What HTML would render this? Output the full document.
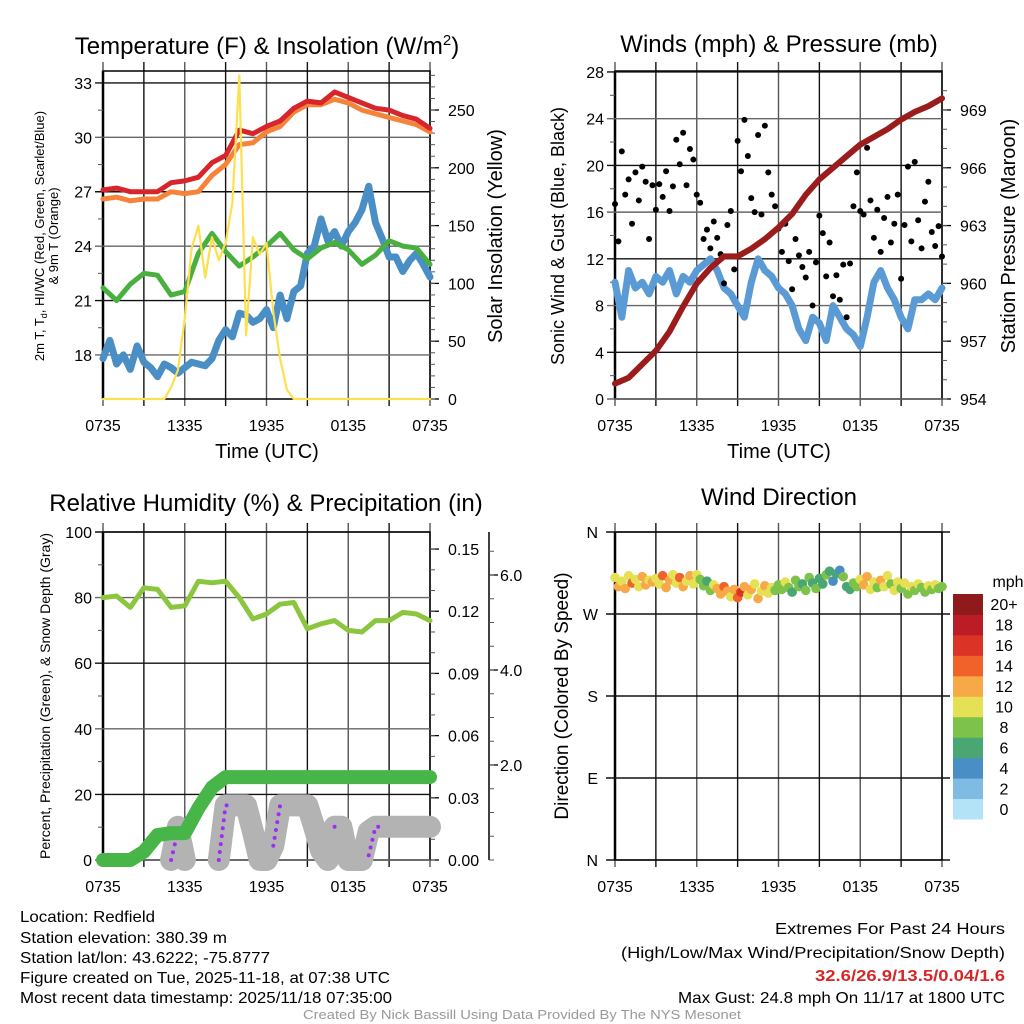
<!DOCTYPE html>
<html><head><meta charset="utf-8">
<style>
html,body{margin:0;padding:0;background:#fff;}
svg{display:block;font-family:"Liberation Sans",sans-serif;}
.tk{font-size:16px;fill:#000;}
</style></head>
<body>
<svg id="fig" width="1024" height="1024" viewBox="0 0 1024 1024" xmlns="http://www.w3.org/2000/svg">
<rect x="0" y="0" width="1024" height="1024" fill="#fff"/>
<text x="267" y="54" font-size="24" text-anchor="middle">Temperature (F) &amp; Insolation (W/m<tspan font-size="15" dy="-9">2</tspan><tspan dy="9">)</tspan></text>
<text x="779" y="52" font-size="24" text-anchor="middle">Winds (mph) &amp; Pressure (mb)</text>
<text x="266" y="511" font-size="24" text-anchor="middle">Relative Humidity (%) &amp; Precipitation (in)</text>
<text x="779" y="505" font-size="24" text-anchor="middle">Wind Direction</text>

<text x="267" y="458" font-size="20" text-anchor="middle">Time (UTC)</text>
<text x="779" y="458" font-size="20" text-anchor="middle">Time (UTC)</text>

<text transform="translate(44,236) rotate(-90)" font-size="13" text-anchor="middle">2m T, T<tspan font-size="9" dy="3">d</tspan><tspan dy="-3">, HI/WC (Red, Green, Scarlet/Blue)</tspan></text>
<text transform="translate(58,236) rotate(-90)" font-size="13" text-anchor="middle">&amp; 9m T (Orange)</text>
<text transform="translate(502,236) rotate(-90)" font-size="20" text-anchor="middle">Solar Insolation (Yellow)</text>
<text transform="translate(564,236) rotate(-90)" font-size="18" text-anchor="middle">Sonic Wind &amp; Gust (Blue, Black)</text>
<text transform="translate(1015,236) rotate(-90)" font-size="20" text-anchor="middle">Station Pressure (Maroon)</text>
<text transform="translate(50,696) rotate(-90)" font-size="14" text-anchor="middle">Percent, Precipitation (Green), &amp; Snow Depth (Gray)</text>
<text transform="translate(568,696) rotate(-90)" font-size="19" text-anchor="middle">Direction (Colored By Speed)</text>

<g id="layer"></g>

<g font-family="Liberation Sans Narrow, Liberation Sans, sans-serif" font-size="16">
<text x="20" y="922" textLength="135" lengthAdjust="spacingAndGlyphs">Location: Redfield</text>
<text x="20" y="943" textLength="207" lengthAdjust="spacingAndGlyphs">Station elevation: 380.39 m</text>
<text x="20" y="963" textLength="250" lengthAdjust="spacingAndGlyphs">Station lat/lon: 43.6222; -75.8777</text>
<text x="20" y="983" textLength="370" lengthAdjust="spacingAndGlyphs">Figure created on Tue, 2025-11-18, at 07:38 UTC</text>
<text x="20" y="1003" textLength="372" lengthAdjust="spacingAndGlyphs">Most recent data timestamp: 2025/11/18 07:35:00</text>
</g>
<g font-family="Liberation Sans Narrow, Liberation Sans, sans-serif" font-size="16" text-anchor="end">
<text x="1005" y="934" textLength="230" lengthAdjust="spacingAndGlyphs">Extremes For Past 24 Hours</text>
<text x="1005" y="958" textLength="384" lengthAdjust="spacingAndGlyphs">(High/Low/Max Wind/Precipitation/Snow Depth)</text>
<text x="1005" y="981" fill="#d62728" font-weight="bold" textLength="190" lengthAdjust="spacingAndGlyphs">32.6/26.9/13.5/0.04/1.6</text>
<text x="1005" y="1003" textLength="327" lengthAdjust="spacingAndGlyphs">Max Gust: 24.8 mph On 11/17 at 1800 UTC</text>
</g>
<text x="522" y="1019" font-family="Liberation Sans Narrow, Liberation Sans, sans-serif" font-size="13" fill="#999" text-anchor="middle" textLength="438" lengthAdjust="spacingAndGlyphs">Created By Nick Bassill Using Data Provided By The NYS Mesonet</text>
</svg>
<script>
// ---- data (hourly = 25 pts, half-hourly = 49 pts, 15-min = 97 pts, 0735 -> 0735) ----
const timeLabels = ["0735","1335","1935","0135","0735"];
const tempRed = [27.1,27.2,27.0,27.0,27.0,27.5,27.6,27.8,28.6,29.0,30.4,30.2,30.6,30.9,31.6,32.0,31.9,32.5,32.2,31.9,31.6,31.5,31.2,31.0,30.5];
const temp9m = [26.6,26.7,26.5,26.6,26.6,27.0,26.9,27.0,27.9,28.5,29.6,29.7,30.3,30.6,31.4,31.8,31.8,32.1,31.9,31.5,31.3,31.1,30.9,30.7,30.3];
const dewpoint = [21.7,21.0,21.9,22.5,22.4,21.3,21.5,23.6,24.7,23.7,22.9,23.4,24.0,24.7,23.8,23.3,23.9,24.2,23.8,23.0,23.5,24.3,24.0,23.9,23.0];
const windChill = [17.8,18.8,17.5,18.0,17.2,18.5,17.6,17.3,16.8,17.5,17.3,17.0,17.3,17.6,17.5,17.4,17.8,18.8,19.4,19.0,20.3,20.2,19.8,20.0,20.5,19.5,21.3,20.0,21.5,21.8,23.6,24.0,25.5,24.3,24.8,24.0,24.8,25.3,26.0,27.3,25.3,24.4,23.4,23.4,22.6,23.2,23.6,23.0,22.3];
const insolation = [0,0,0,0,0,0,0,0,0,0,10,25,70,130,150,105,140,120,135,170,280,55,140,125,135,75,35,8,0,0,0,0,0,0,0,0,0,0,0,0,0,0,0,0,0,0,0,0,0];
const tempTicks = [18,21,24,27,30,33];
const solarTicks = [0,50,100,150,200,250];

const windSpeed = [10,7,11,9.5,10,9,10.5,10,11,9,10.5,10,11,11.5,12,11,9.5,9,8,7,10,12,11,10.5,9.5,9,8,6,5,7,6.5,5,8,7,6,5.5,4.5,7,10,11,9.5,8.5,7,6,8.5,8.5,9,8.5,9.5];
const gusts = [16.7,13.5,21.2,17.5,18.8,15,19.4,17,19.9,18.6,13.7,18.3,16.2,18.4,17.3,19.5,16.1,18.2,22.2,20.1,22.8,18.3,21.4,20.5,17.5,16.8,13.7,14.5,12.9,15.2,13.8,12.4,9.9,14.9,16.1,11.1,22.1,19.5,23.9,20.8,17.2,16,22.6,15.8,23.4,19.4,17.5,16.5,14.6,12.6,15,11.8,9.4,13.7,12.3,11.3,10.4,12.6,8,11.7,15.7,14.2,10.5,13.4,8.8,10.6,8.5,11.5,7,11.6,16.5,19.4,16.1,15.8,21.5,17,13.8,16.2,12.6,15.5,17.3,13.4,15,17.5,10.3,14.9,19.9,13.5,20.3,15.3,12.9,16.9,18.6,14.3,13.1,14.8,12.2];
const pressure = [954.8,955.1,955.8,956.5,957.5,958.8,960.0,960.8,961.4,961.4,961.8,962.3,962.9,963.6,964.6,965.4,966.0,966.6,967.2,967.6,968.0,968.5,968.9,969.2,969.6];
const windTicks = [0,4,8,12,16,20,24,28];
const pressTicks = [954,957,960,963,966,969];

const humidity = [80,80.5,77,83,82.5,77,77.5,85,84.5,85,80,73.5,75,78,78.5,70.5,72,73,70,69.5,73,73,75.5,75,73];
const precip = [0,0,0,0.004,0.012,0.013,0.013,0.025,0.035,0.04,0.04,0.04,0.04,0.04,0.04,0.04,0.04,0.04,0.04,0.04,0.04,0.04,0.04,0.04,0.04];
const snowDepth = [null,null,null,null,null,null,null,null,null,null,0,0.7,0,null,null,null,null,0,1.15,1.15,1.15,1.15,0.6,0,0,0.3,1.15,1.15,1.15,1.15,1.15,0.7,0.2,0,0.7,0.7,0,0,0,0.6,0.7,0.7,0.7,0.7,0.7,0.7,0.7,0.7,0.7];
const snowRaw = [null,null,null,null,null,null,null,null,null,null,0,0.6,null,null,null,null,null,0,1.15,1.15,null,null,null,null,null,0.3,1.15,1.15,null,null,null,null,null,null,0.7,0.7,null,null,null,0.1,0.7,0.7,null,null,null,null,null,null,null];
const rhTicks = [0,20,40,60,80,100];
const precipTicks = ["0.00","0.03","0.06","0.09","0.12","0.15"];
const snowTicks = ["2.0","4.0","6.0"];

const windDir = [310,300,306,298,312,304,308,300,311,302,307,305,
309,303,312,299,307,313,304,310,300,306,312,303,
313,308,301,306,296,302,298,292,300,295,289,297,
288,294,300,291,297,303,287,295,301,293,299,296,
302,297,305,299,294,307,300,303,296,310,304,298,
309,303,313,317,306,314,318,311,300,297,304,300,
308,302,311,297,305,299,307,300,312,303,296,305,
298,304,292,300,296,303,299,294,301,297,302,298,300];
const dirSpeed = [10,12,9,11,10,13,10,9,11,12,10,11,
9,10,13,11,12,10,9,13,11,10,12,10,
9,7,8,6,7,10,12,11,13,12,10,11,
13,15,12,10,11,9,12,10,11,10,9,8,
7,8,9,7,6,8,7,6,8,7,6,7,
6,5,7,6,4,5,4,7,6,5,8,7,
10,11,12,9,10,8,11,10,9,8,10,9,
8,9,7,10,8,9,8,7,9,8,9,8,8];
const dirLabels = ["N","E","S","W","N"];
const speedLabels = ["0","2","4","6","8","10","12","14","16","18","20+"];

// ---- geometry / scales ----
const NS="http://www.w3.org/2000/svg";
const layer=document.getElementById('layer');
const LX0=103, RX0=615, PW=327;
function xAt(x0,i,n){return x0+i*PW/(n-1);}
const yT=v=>399-(v-15.57)*18.133;
const yI=v=>399-v*1.156;
const yW=v=>399-v*11.68;
const yP=v=>399-(v-954)*19.27;
const yRH=v=>860-v*3.28;
const yPr=v=>860-v*2073;
const ySn=v=>860-v*47.5;
const yD=d=>860-d/360*328;
const speedColors=['#b3e3f7','#7fbbe3','#4a8ec6','#4aa673','#7cc24b','#e6e054','#f7a847','#f0622a','#db3427','#bb1c25','#8f1a1b'];

function el(tag,attrs){const e=document.createElementNS(NS,tag);for(const k in attrs)e.setAttribute(k,attrs[k]);layer.appendChild(e);return e;}

function frame(x0,top,bot,name){
  for(let i=0;i<=8;i++){
    const x=x0+i*PW/8;
    const g=el('line',{x1:x,x2:x,y1:top-9,y2:bot+7,stroke:(i%2===0)?'#555':'#111','stroke-width':1.4});
    
    
  }
  const r=el('rect',{x:x0,y:top,width:PW,height:bot-top,fill:'none',stroke:'#000','stroke-width':1.5});
  
  
  const l=el('line',{x1:x0,x2:x0,y1:top,y2:bot,stroke:'#000','stroke-width':2.5});
  
  
}
function xTicks(x0,y,name){
  timeLabels.forEach((t,i)=>{
    const e=el('text',{x:x0+i*PW/4,y:y,'text-anchor':'middle',class:'tk'});e.textContent=t;
    
    
  });
}
function leftAxis(vals,labels,yf,x0,grid,minorStep,name,x1){
  vals.forEach((v,i)=>{
    const y=yf(v);
    if(grid){const g=el('line',{x1:x0-8,x2:x1,y1:y,y2:y,stroke:(i%2)?'#111':'#666','stroke-width':1.4});
      
      }
    const t=el('text',{x:x0-11,y:y+6,'text-anchor':'end',class:'tk'});t.textContent=labels[i];
    
    
    if(minorStep&&i<vals.length-1){const ym=yf(v+minorStep);
      const m=el('line',{x1:x0-5,x2:x0,y1:ym,y2:ym,stroke:'#555','stroke-width':1});
      
      }
  });
}
function rightAxis(vals,labels,yf,x,minorVals,name,lx){
  vals.forEach((v,i)=>{
    const y=yf(v);
    const k=el('line',{x1:x,x2:x+9,y1:y,y2:y,stroke:'#000','stroke-width':1.3});
    
    
    const t=el('text',{x:lx,y:y+6,class:'tk'});t.textContent=labels[i];
    
    
  });
  minorVals.forEach(v=>{const y=yf(v);
    const m=el('line',{x1:x,x2:x+5,y1:y,y2:y,stroke:'#555','stroke-width':1});
    
    });
}
function series(vals,x0,yf,attrs,name){
  let d='',pen=false;
  vals.forEach((v,i)=>{
    if(v===null){pen=false;return;}
    d+=(pen?'L':'M')+xAt(x0,i,vals.length).toFixed(1)+' '+yf(v).toFixed(1);pen=true;
  });
  const p=el('path',Object.assign({d:d,fill:'none','stroke-linejoin':'round','stroke-linecap':'round'},attrs));
  
  
  return p;
}
function range(a,b,s){const r=[];for(let v=a;v<=b+1e-9;v+=s)r.push(+v.toFixed(4));return r;}

// ---- panel 1: temperature ----
frame(LX0,71,399,'temp');
leftAxis(tempTicks,tempTicks.map(String),yT,LX0,true,1.5,'temp',430);
rightAxis(solarTicks,solarTicks.map(String),yI,430,range(0,280,10),'solar',448);
xTicks(LX0,431,'temp');
series(windChill,LX0,yT,{stroke:'#4a8ec6','stroke-width':7},'wind-chill-line');
series(dewpoint,LX0,yT,{stroke:'#49b03f','stroke-width':5},'dewpoint-line');
series(temp9m,LX0,yT,{stroke:'#f5843a','stroke-width':5},'temp-9m-line');
series(tempRed,LX0,yT,{stroke:'#d7262b','stroke-width':5},'temp-2m-line');
series(insolation,LX0,yI,{stroke:'#fde04f','stroke-width':2.2},'insolation-line');

// ---- panel 2: winds ----
frame(RX0,71,399,'wind');
leftAxis(windTicks,windTicks.map(String),yW,RX0,true,2,'wind',942);
rightAxis(pressTicks,pressTicks.map(String),yP,942,range(954,970,1),'pressure',960);
xTicks(RX0,431,'wind');
series(windSpeed,RX0,yW,{stroke:'#5b9bd5','stroke-width':7},'wind-speed-line');
gusts.forEach((g,i)=>{
  const c=el('circle',{cx:xAt(RX0,i,gusts.length),cy:yW(g),r:3,fill:'#000'});
  
  
});
series(pressure,RX0,yP,{stroke:'#9b1c1c','stroke-width':6},'pressure-line');

// ---- panel 3: humidity ----
frame(LX0,532,860,'rh');
leftAxis(rhTicks,rhTicks.map(String),yRH,LX0,true,10,'rh',430);
rightAxis([0,0.03,0.06,0.09,0.12,0.15],precipTicks,yPr,430,range(0,0.15,0.01),'precip',448);
{const s=el('line',{x1:489,x2:489,y1:532,y2:860,stroke:'#000','stroke-width':1.5});
 
 }
rightAxis([2,4,6],snowTicks,ySn,489,range(0,6.5,0.5),'snow',500);
xTicks(LX0,892,'rh');
series(snowDepth,LX0,ySn,{stroke:'#b3b3b3','stroke-width':22},'snow-depth-line');
series(snowRaw,LX0,ySn,{stroke:'#9b30f0','stroke-width':4,'stroke-dasharray':'0 8'},'snow-raw-line');
series(precip,LX0,yPr,{stroke:'#48b548','stroke-width':14},'precip-line');
series(humidity,LX0,yRH,{stroke:'#8cc63f','stroke-width':5},'humidity-line');

// ---- panel 4: wind direction ----
frame(RX0,532,860,'dir');
[0,90,180,270,360].forEach((d,i)=>{
  const y=yD(d);
  const g=el('line',{x1:RX0-9,x2:950,y1:y,y2:y,stroke:'#111','stroke-width':1.4});
  
  
  const t=el('text',{x:598,y:y+6,'text-anchor':'end',class:'tk'});t.textContent=dirLabels[i];
  
  
});
xTicks(RX0,892,'dir');
windDir.forEach((d,i)=>{
  const b=Math.min(10,Math.round(dirSpeed[i]/2));
  const c=el('circle',{cx:xAt(RX0,i,windDir.length),cy:yD(d),r:4.8,fill:speedColors[b]});
  
  
});
// colorbar
speedLabels.forEach((lab,i)=>{
  const h=225/11, y=819-(i+1)*h;
  const r=el('rect',{x:953,y:y,width:30,height:h+0.5,fill:speedColors[i]});
  
  
  const t=el('text',{x:1004,y:y+h/2+6,'text-anchor':'middle',class:'tk'});t.textContent=lab;
  
  
});
{const t=el('text',{x:1008,y:587,'text-anchor':'middle',class:'tk'});t.textContent='mph';
 
 }
</script>
</body></html>
